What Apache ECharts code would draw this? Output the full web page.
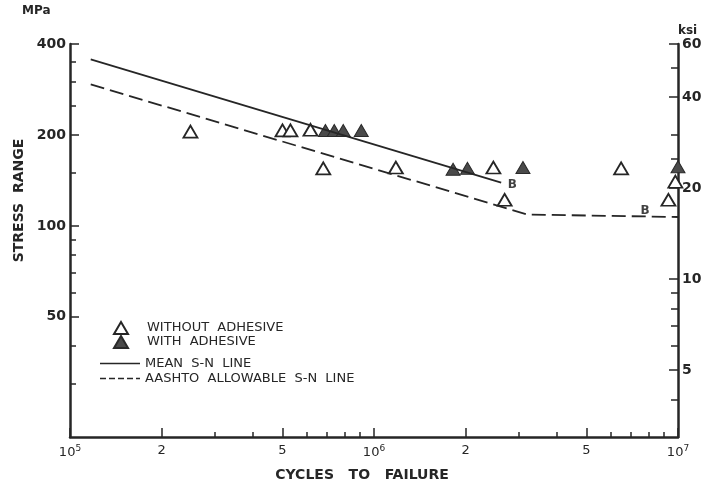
<!DOCTYPE html>
<html><head><meta charset="utf-8">
<script src="https://cdn.jsdelivr.net/npm/echarts@6/dist/echarts.min.js"></script>
<style>html,body{margin:0;padding:0;background:#fff}#c{width:716px;height:489px}</style>
</head><body><div id="c"></div>
<script>
// ---- data (cycles to failure, stress range in MPa) ----
const withoutN = [2.49e5, 5.0e5, 5.31e5, 6.18e5, 6.81e5, 1.18e6, 2.47e6, 2.69e6, 6.5e6, 9.8e6, 9.3e6];
const withoutS = [205, 207, 207, 208, 155, 156, 156, 122, 155, 140, 122];
const withN = [6.92e5, 7.40e5, 7.92e5, 9.08e5, 1.82e6, 2.03e6, 3.09e6, 1.0e7];
const withS = [207, 207, 207, 207, 154, 155, 156, 157];
const meanN = [1.17e5, 2.62e6];
const meanS = [356, 139];
const aashtoN = [1.17e5, 3.2e6, 1.0e7];
const aashtoS = [294, 109, 107];
const bLabelN = [2.85e6, 7.8e6];
const bLabelS = [137, 112];
// ---- ticks ----
const xLabelTicks = [1e5, 2e5, 5e5, 1e6, 2e6, 5e6, 1e7];
const xMinorTicks = [3e5, 4e5, 6e5, 7e5, 8e5, 9e5, 3e6, 4e6, 6e6, 7e6, 8e6, 9e6];
const mpaLabelTicks = [50, 100, 200, 400];
const mpaMinorTicks = [30, 40, 60, 70, 80, 90, 150, 250, 300, 350];
const ksiLabelTicks = [5, 10, 20, 40, 60];
const ksiMinorTicks = [4, 6, 7, 8, 9, 25, 30, 50];

const S_WITHOUT = 'WITHOUT  ADHESIVE';
const S_WITH = 'WITH  ADHESIVE';
const S_MEAN = 'MEAN  S-N  LINE';
const S_AASHTO = 'AASHTO  ALLOWABLE  S-N  LINE';

const zip = (a, b) => a.map((v, i) => [v, b[i]]);
const FONT = 'DejaVu Sans';
const INK = '#262626';

const chart = echarts.init(document.getElementById('c'), null, {renderer: 'canvas'});

function xFmt(v) {
  const e = Math.floor(Math.log10(v) + 1e-9);
  const m = Math.round(v / Math.pow(10, e));
  return m === 1 ? '{b|10}{s|' + e + '}' : '{b|' + m + '}';
}
const minorAxisCommon = {
  axisLine: {show: false},
  axisLabel: {show: false},
  splitLine: {show: false},
  minorTick: {show: false}
};
const legendText = {fontFamily: FONT, fontSize: 13, color: INK};
const solidIcon = 'path://M0 0H40V1.3H0Z';
const dashIcon = 'path://M0 0H6V1.3H0ZM9 0H15V1.3H9ZM18 0H24V1.3H18ZM27 0H33V1.3H27ZM36 0H40V1.3H36Z';

chart.setOption({
  animation: false,
  backgroundColor: '#fff',
  grid: {left: 70, right: 38, top: 44, bottom: 52},
  legend: [
    {
      orient: 'vertical', left: 108, top: 316, itemWidth: 14, itemHeight: 12, itemGap: 0,
      textStyle: Object.assign({padding: [4, 0, 0, 14]}, legendText),
      data: [S_WITHOUT, S_WITH]
    },
    {
      orient: 'vertical', left: 95, top: 352, itemWidth: 40, itemHeight: 8, itemGap: 2,
      textStyle: Object.assign({padding: [4, 0, 0, 0]}, legendText),
      data: [
        {name: S_MEAN, icon: solidIcon, itemStyle: {color: INK}},
        {name: S_AASHTO, icon: dashIcon, itemStyle: {color: INK}}
      ]
    }
  ],
  xAxis: [
    {
      type: 'log', min: 1e5, max: 1e7, position: 'bottom',
      name: 'CYCLES   TO   FAILURE', nameLocation: 'middle', nameGap: 31,
      nameTextStyle: {fontFamily: FONT, fontSize: 14, fontWeight: 'bold', color: INK, padding: [0, 24, 0, 0]},
      axisLine: {lineStyle: {color: INK, width: 2.5}},
      axisTick: {inside: true, length: 9, customValues: xLabelTicks, lineStyle: {color: INK, width: 1.5}},
      axisLabel: {
        customValues: xLabelTicks, margin: 7, formatter: xFmt,
        rich: {
          b: {fontFamily: FONT, fontSize: 13, color: INK},
          s: {fontFamily: FONT, fontSize: 9, color: INK, padding: [0, 0, 9, 0]}
        }
      },
      splitLine: {show: false}
    },
    Object.assign({
      type: 'log', min: 1e5, max: 1e7, position: 'bottom',
      axisTick: {inside: true, length: 5, customValues: xMinorTicks, lineStyle: {color: INK, width: 1.5}}
    }, minorAxisCommon)
  ],
  yAxis: [
    {
      type: 'log', min: 20, max: 400, position: 'left',
      name: 'STRESS  RANGE', nameLocation: 'middle', nameGap: 40,
      nameTextStyle: {fontFamily: FONT, fontSize: 14, fontWeight: 'bold', color: INK, padding: [0, 0, 0, 80]},
      axisLine: {lineStyle: {color: INK, width: 2.5}},
      axisTick: {inside: true, length: 9, customValues: mpaLabelTicks, lineStyle: {color: INK, width: 1.5}},
      axisLabel: {customValues: mpaLabelTicks, margin: 4, formatter: v => String(Math.round(v)),
        fontFamily: FONT, fontSize: 14, fontWeight: 'bold', color: INK},
      splitLine: {show: false}
    },
    Object.assign({
      type: 'log', min: 20, max: 400, position: 'left',
      axisTick: {inside: true, length: 6, customValues: mpaMinorTicks, lineStyle: {color: INK, width: 1.5}}
    }, minorAxisCommon),
    {
      type: 'log', min: 3, max: 60, position: 'right',
      name: 'ksi', nameLocation: 'end', nameGap: 7,
      nameTextStyle: {fontFamily: FONT, fontSize: 12, fontWeight: 'bold', color: INK, align: 'left'},
      axisLine: {lineStyle: {color: INK, width: 2.5}},
      axisTick: {inside: true, length: 9, customValues: ksiLabelTicks, lineStyle: {color: INK, width: 1.5}},
      axisLabel: {customValues: ksiLabelTicks, margin: 4, formatter: v => String(Math.round(v)),
        fontFamily: FONT, fontSize: 14, fontWeight: 'bold', color: INK},
      splitLine: {show: false}
    },
    Object.assign({
      type: 'log', min: 3, max: 60, position: 'right',
      axisTick: {inside: true, length: 7, customValues: ksiMinorTicks, lineStyle: {color: INK, width: 1.5}}
    }, minorAxisCommon)
  ],
  graphic: [
    {type: 'text', left: 22, top: 5, style: {text: 'MPa', fontFamily: FONT, fontSize: 12, fontWeight: 'bold', fill: INK}}
  ],
  series: [
    {
      name: S_MEAN, type: 'line', data: zip(meanN, meanS), symbol: 'none',
      lineStyle: {color: INK, width: 1.8}, itemStyle: {color: INK}
    },
    {
      name: S_AASHTO, type: 'line', data: zip(aashtoN, aashtoS), symbol: 'none',
      lineStyle: {color: INK, width: 1.8, type: [14, 6]}, itemStyle: {color: INK}
    },
    {
      name: S_WITHOUT, type: 'scatter', data: zip(withoutN, withoutS), clip: false,
      symbol: 'triangle', symbolSize: [14, 12],
      itemStyle: {color: '#fff', borderColor: INK, borderWidth: 1.8, opacity: 1}
    },
    {
      name: S_WITH, type: 'scatter', data: zip(withN, withS), clip: false,
      symbol: 'triangle', symbolSize: [14, 12],
      itemStyle: {color: '#4a4a4a', borderColor: '#2a2a2a', borderWidth: 1, opacity: 1}
    },
    {
      name: 'B', type: 'scatter', data: zip(bLabelN, bLabelS), clip: false,
      symbolSize: 1, itemStyle: {color: 'rgba(0,0,0,0)'}, silent: true,
      label: {show: true, position: 'inside', formatter: 'B', fontFamily: FONT, fontSize: 12, fontWeight: 'bold', color: '#111'}
    }
  ]
});
</script>
</body></html>
